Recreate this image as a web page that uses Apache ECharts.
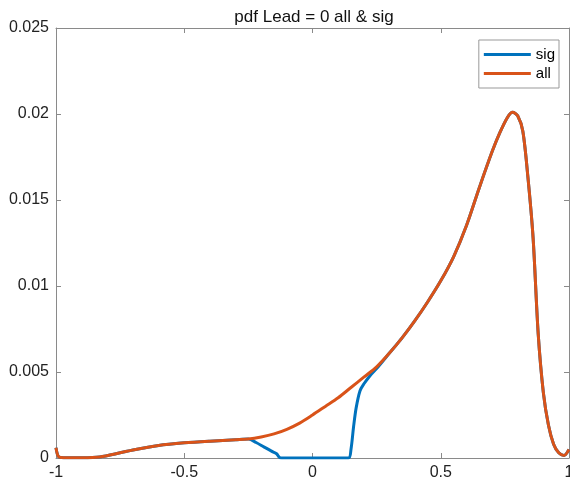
<!DOCTYPE html>
<html>
<head>
<meta charset="utf-8">
<script src="https://cdn.jsdelivr.net/npm/echarts@6/dist/echarts.min.js"></script>
<style>html,body{margin:0;padding:0;background:#fff;}#c{width:570px;height:485px;}</style>
</head>
<body>
<div id="c"></div>
<script>
// values
const xAll = [-1, -0.99, -0.97, -0.9, -0.83, -0.75, -0.7, -0.6, -0.5, -0.4, -0.3, -0.25, -0.2, -0.15, -0.1, -0.05, 0, 0.05, 0.1, 0.15, 0.2, 0.25, 0.3, 0.35, 0.4, 0.45, 0.5, 0.55, 0.6, 0.65, 0.7, 0.73, 0.76, 0.78, 0.8, 0.82, 0.84, 0.86, 0.88, 0.9, 0.92, 0.94, 0.96, 0.98, 1.0];
const yAll = [0.0006, 0.00008, 0.00002, 0.00002, 0.00006, 0.0003, 0.00047, 0.00073, 0.00088, 0.00098, 0.00106, 0.0011, 0.00122, 0.0014, 0.00167, 0.00203, 0.0025, 0.003, 0.0035, 0.0041, 0.0047, 0.0053, 0.0061, 0.007, 0.008, 0.0091, 0.0103, 0.0117, 0.0135, 0.0157, 0.0178, 0.0189, 0.0198, 0.0201, 0.0199, 0.019, 0.0163, 0.0128, 0.0072, 0.0038, 0.0019, 0.0008, 0.0003, 0.00015, 0.0005];

const xSig = [-1, -0.99, -0.97, -0.9, -0.83, -0.75, -0.7, -0.6, -0.5, -0.4, -0.3, -0.25, -0.22, -0.19, -0.16, -0.14, -0.13, -0.12, 0, 0.14, 0.15, 0.16, 0.17, 0.185, 0.2, 0.225, 0.25, 0.3, 0.35, 0.4, 0.45, 0.5, 0.55, 0.6, 0.65, 0.7, 0.73, 0.76, 0.78, 0.8, 0.82, 0.84, 0.86, 0.88, 0.9, 0.92, 0.94, 0.96, 0.98, 1.0];
const ySig = [0.0006, 0.00008, 0.00002, 0.00002, 0.00006, 0.0003, 0.00047, 0.00073, 0.00088, 0.00098, 0.00106, 0.0011, 0.0009, 0.00065, 0.0004, 0.00025, 0.00005, 0, 0, 0, 0.0005, 0.0018, 0.0029, 0.0039, 0.0043, 0.0048, 0.0052, 0.0061, 0.007, 0.008, 0.0091, 0.0103, 0.0117, 0.0135, 0.0157, 0.0178, 0.0189, 0.0198, 0.0201, 0.0199, 0.019, 0.0163, 0.0128, 0.0072, 0.0038, 0.0019, 0.0008, 0.0003, 0.00015, 0.0005];

const xTicks = [-1, -0.5, 0, 0.5, 1];
const yTicks = [0, 0.005, 0.01, 0.015, 0.02, 0.025];
const titleText = 'pdf Lead = 0 all & sig';
const seriesNames = ['sig', 'all'];

const zip = (xs, ys) => xs.map((x, i) => [x, ys[i]]);
const FONT = '"Liberation Sans", Arial, Helvetica, sans-serif';
const AX = '#8a8a8a';

const chart = echarts.init(document.getElementById('c'), null, {renderer: 'canvas'});
const baseX = {
  type: 'value', min: xTicks[0], max: xTicks[xTicks.length - 1], interval: 0.5,
  axisLine: {show: true, onZero: false, lineStyle: {color: AX, width: 1}},
  axisTick: {show: true, inside: true, length: 5, lineStyle: {color: AX}},
  splitLine: {show: false}
};
const baseY = {
  type: 'value', min: yTicks[0], max: yTicks[yTicks.length - 1], interval: 0.005,
  axisLine: {show: true, onZero: false, lineStyle: {color: AX, width: 1}},
  axisTick: {show: true, inside: true, length: 5, lineStyle: {color: AX}},
  splitLine: {show: false}
};
chart.setOption({
  animation: false,
  backgroundColor: '#fff',
  grid: {left: 56, right: 1, top: 28, bottom: 27, containLabel: false, outerBoundsMode: 'none'},
  graphic: [{
    type: 'text', x: 314, y: 17,
    style: {text: titleText, fill: '#111', font: '17px ' + FONT, textAlign: 'center', textVerticalAlign: 'middle'}
  }],
  legend: {
    data: seriesNames, orient: 'vertical', right: 11, top: 40,
    backgroundColor: '#fff', borderColor: '#999', borderWidth: 1, borderRadius: 0,
    padding: [7, 4, 7, 5], itemGap: 4, itemWidth: 47, itemHeight: 3, icon: 'rect',
    textStyle: {fontSize: 15, color: '#000', fontFamily: FONT}
  },
  xAxis: [
    Object.assign({}, baseX, {position: 'bottom',
      axisLabel: {show: true, margin: 7, color: '#222', fontSize: 16, fontFamily: FONT,
        formatter: v => String(v)}}),
    Object.assign({}, baseX, {position: 'top', axisLabel: {show: false}})
  ],
  yAxis: [
    Object.assign({}, baseY, {position: 'left',
      axisLabel: {show: true, margin: 7, color: '#222', fontSize: 16, fontFamily: FONT,
        formatter: v => String(+v.toFixed(4))}}),
    Object.assign({}, baseY, {position: 'right', axisLabel: {show: false}})
  ],
  series: [
    {name: seriesNames[0], type: 'line', data: zip(xSig, ySig), showSymbol: false, symbol: 'none',
     smooth: 0.3, color: '#0072BD', lineStyle: {width: 3, color: '#0072BD'}, z: 2},
    {name: seriesNames[1], type: 'line', data: zip(xAll, yAll), showSymbol: false, symbol: 'none',
     smooth: 0.3, color: '#D95319', lineStyle: {width: 3, color: '#D95319'}, z: 3}
  ]
});
</script>
</body>
</html>
